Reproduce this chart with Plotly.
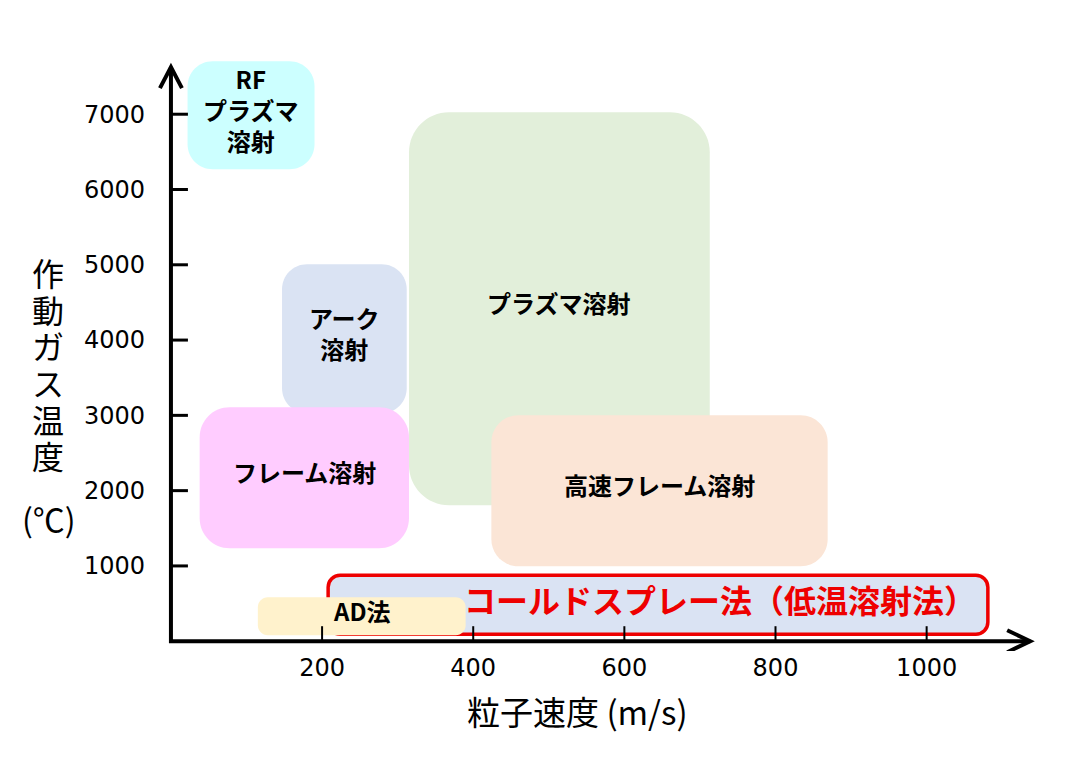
import plotly.graph_objects as go

# --- DATA (particle speed in m/s, gas temperature in degC) ---
PROCESS_NAMES = ["プラズマ溶射", "アーク<br>溶射", "フレーム溶射", "高速フレーム溶射",
                 "RF<br>プラズマ<br>溶射", "コールドスプレー法（低温溶射法）", "AD法"]
SPEED_MIN = [315, 147, 38, 424, 22, 208, 115]
SPEED_MAX = [713, 312, 315, 869, 190, 1081, 390]
TEMP_MIN = [1807, 3028, 1235, 996, 6270, 93, 80]
TEMP_MAX = [7027, 5008, 3108, 3002, 7705, 877, 584]

X_TICKS = [200, 400, 600, 800, 1000]
Y_TICKS = [1000, 2000, 3000, 4000, 5000, 6000, 7000]
X_AXIS_END = 1137   # arrow tip of speed axis
Y_AXIS_END = 7625   # arrow tip of temperature axis

X_TITLE = "粒子速度 (m/s)"
Y_TITLE = "作動ガス温度"
Y_TITLE_UNIT = "(℃)"

# --- STYLE ---
FILLS = ["#e2efda", "#dae3f3", "#ffccff", "#fbe5d6", "#ccffff", "#dae3f3", "#fff2cc"]
CORNER_PX = [40, 25, 30, 27, 25, 12, 10]
RED = "#ee0000"
JP_FONT = "Noto Sans CJK JP"
NUM_FONT = "DejaVu Sans"

W, H = 1092, 763
X_RANGE = [-33, 1150]
Y_RANGE = [-130, 7760]
# where (0, 0) sits in the figure and how many pixels one unit takes
ORIGIN_PX = (163, 633)
PX_PER_X = 0.756
PX_PER_Y = 0.07528

plot_l = ORIGIN_PX[0] + X_RANGE[0] * PX_PER_X
plot_w = (X_RANGE[1] - X_RANGE[0]) * PX_PER_X
plot_b = ORIGIN_PX[1] - Y_RANGE[0] * PX_PER_Y
plot_h = (Y_RANGE[1] - Y_RANGE[0]) * PX_PER_Y
MARGIN = dict(l=plot_l, r=W - plot_l - plot_w, t=plot_b - plot_h, b=H - plot_b, pad=0)


def paper_x(px):
    return (px - plot_l) / plot_w


def paper_y(py):
    return (plot_b - py) / plot_h


def rounded_path(x0, x1, y0, y1, r_px):
    # rounded rectangle in data units, corner radius given in pixels
    rx = r_px / PX_PER_X
    ry = r_px / PX_PER_Y
    c = 1 - 0.5523
    return (f"M {x0 + rx},{y1} L {x1 - rx},{y1} "
            f"C {x1 - rx * c},{y1} {x1},{y1 - ry * c} {x1},{y1 - ry} "
            f"L {x1},{y0 + ry} "
            f"C {x1},{y0 + ry * c} {x1 - rx * c},{y0} {x1 - rx},{y0} "
            f"L {x0 + rx},{y0} "
            f"C {x0 + rx * c},{y0} {x0},{y0 + ry * c} {x0},{y0 + ry} "
            f"L {x0},{y1 - ry} "
            f"C {x0},{y1 - ry * c} {x0 + rx * c},{y1} {x0 + rx},{y1} Z")


fig = go.Figure()
# invisible trace so the axes exist
fig.add_trace(go.Scatter(x=[0], y=[0], mode="markers", marker=dict(opacity=0), hoverinfo="skip", showlegend=False))

shapes = []
annotations = []

# Process boxes
for i, name in enumerate(PROCESS_NAMES):
    is_cold = name.startswith("コールド")
    shapes.append(dict(
        type="path", xref="x", yref="y", layer="above",
        path=rounded_path(SPEED_MIN[i], SPEED_MAX[i], TEMP_MIN[i], TEMP_MAX[i], CORNER_PX[i]),
        fillcolor=FILLS[i],
        line=dict(color=RED if is_cold else "rgba(0,0,0,0)", width=3.5 if is_cold else 0),
    ))

# Labels (annotations so they stay on top of every box)
for i, name in enumerate(PROCESS_NAMES):
    is_cold = name.startswith("コールド")
    annotations.append(dict(
        x=(SPEED_MIN[i] + SPEED_MAX[i]) / 2, y=(TEMP_MIN[i] + TEMP_MAX[i]) / 2,
        xref="x", yref="y", text=f"<b>{name}</b>", showarrow=False,
        xanchor="center", yanchor="middle",
        xshift=62 if is_cold else 0, yshift=6,
        font=dict(family=JP_FONT, size=32 if is_cold else 24, color=RED if is_cold else "black"),
    ))

# Axis lines with open arrowheads
arm_x = 11 / PX_PER_X
arm_y = 21 / PX_PER_Y
shapes.append(dict(type="path", xref="x", yref="y", layer="above",
                   path=f"M 0,{Y_AXIS_END} L 0,0 L {X_AXIS_END},0",
                   line=dict(color="black", width=4)))
shapes.append(dict(type="path", xref="x", yref="y", layer="above",
                   path=f"M {-arm_x},{Y_AXIS_END - arm_y} L 0,{Y_AXIS_END} L {arm_x},{Y_AXIS_END - arm_y}",
                   line=dict(color="black", width=4)))
arm_x2 = 23 / PX_PER_X
arm_y2 = 11 / PX_PER_Y
shapes.append(dict(type="path", xref="x", yref="y", layer="above",
                   path=f"M {X_AXIS_END - arm_x2},{arm_y2} L {X_AXIS_END},0 L {X_AXIS_END - arm_x2},{-arm_y2}",
                   line=dict(color="black", width=4)))

# Inside tick marks
for v in Y_TICKS:
    shapes.append(dict(type="line", xref="x", yref="y", layer="above",
                       x0=0, x1=17 / PX_PER_X, y0=v, y1=v, line=dict(color="black", width=3)))
for v in X_TICKS:
    shapes.append(dict(type="line", xref="x", yref="y", layer="above",
                       x0=v, x1=v, y0=0, y1=15 / PX_PER_Y, line=dict(color="black", width=2)))

# Axis titles (paper coords, they sit outside the plot area)
# vertical y title: one character per line
for k, ch in enumerate(Y_TITLE):
    annotations.append(dict(x=paper_x(40), y=paper_y(264 + 36.6 * k), xref="paper", yref="paper",
                            showarrow=False, xanchor="center", yanchor="middle", text=ch,
                            font=dict(family=JP_FONT, size=32, color="black")))
annotations.append(dict(x=paper_x(41), y=paper_y(510), xref="paper", yref="paper", showarrow=False,
                        xanchor="center", yanchor="middle",
                        text=Y_TITLE_UNIT, font=dict(family=JP_FONT, size=32, color="black")))
annotations.append(dict(x=paper_x(570), y=paper_y(703), xref="paper", yref="paper",
                        xanchor="center", yanchor="middle",
                        showarrow=False, text=X_TITLE,
                        font=dict(family=JP_FONT, size=33, color="black")))

fig.update_layout(
    width=W, height=H,
    margin=MARGIN,
    plot_bgcolor="white", paper_bgcolor="white",
    shapes=shapes, annotations=annotations,
    showlegend=False,
)
fig.update_xaxes(range=X_RANGE, tickvals=X_TICKS, ticks="", showgrid=False, zeroline=False,
                 showline=False, tickfont=dict(family=NUM_FONT, size=24, color="black"))
fig.update_yaxes(range=Y_RANGE, tickvals=Y_TICKS, ticks="", showgrid=False, zeroline=False,
                 showline=False, tickfont=dict(family=NUM_FONT, size=24, color="black"))

fig.write_html("out.html")
